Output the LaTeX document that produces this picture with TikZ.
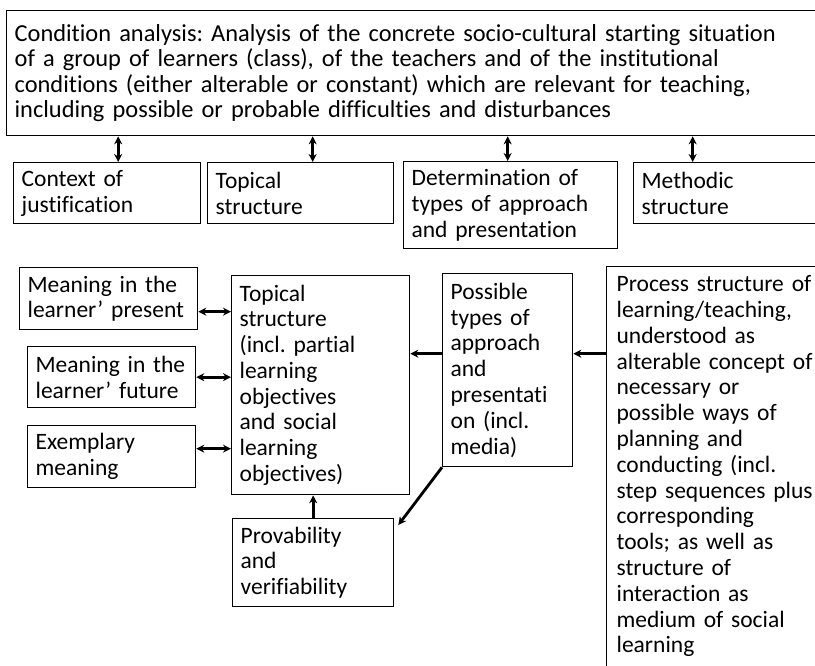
\documentclass[tikz,border=0pt]{standalone}
\usepackage{fontspec}
\setmainfont{Carlito}[Ligatures=CommonOff]
\usetikzlibrary{arrows.meta}
\frenchspacing

\begin{document}
\begin{tikzpicture}[
  x=1pt, y=-1pt,
  >={Stealth[length=8pt,width=8pt]},
  bloc/.style={draw, line width=1.3pt, anchor=north west, align=left,
    inner xsep=8pt, inner ysep=6pt,
    font=\fontsize{23.5}{25.8}\selectfont},
  lien/.style={line width=2.8pt, ->},
  lienbi/.style={line width=2.8pt, <->},
]
  \useasboundingbox (0,0) rectangle (815,665);

  % Analyse des conditions (en haut)
  \node[bloc, text width=813pt, minimum height=125pt,
        font=\fontsize{24.4}{25.6}\selectfont] (cond) at (6,10)
    {Condition analysis: Analysis of the concrete socio-cultural starting situation\\
     of a group of learners (class), of the teachers and of the institutional\\
     conditions (either alterable or constant) which are relevant for teaching,\\
     including possible or probable difficulties and disturbances};

  % Deuxieme rangee
  \node[bloc, text width=171pt, minimum height=61pt] (ctx)  at (13,162)  {Context of\\justification};
  \node[bloc, text width=170pt, minimum height=61pt] (tops) at (207,162) {Topical\\structure};
  \node[bloc, text width=198pt, minimum height=87pt] (det)  at (403,161) {Determination of\\types of approach\\and presentation};
  \node[bloc, text width=184pt, minimum height=61pt] (meth) at (633,162) {Methodic\\structure};

  % Fleches verticales
  \foreach \n/\dx in {ctx/11, tops/12, det/-3, meth/-41}
    \draw[lienbi] ([xshift=\dx pt]\n.north) -- ([xshift=\dx pt]\n.north |- cond.south);

  % Partie basse
  \node[bloc, text width=162pt, minimum height=62pt]  (pres) at (19,267)  {Meaning in the\\learner’ present};
  \node[bloc, text width=152pt, minimum height=61pt]  (fut)  at (27,346)  {Meaning in the\\learner’ future};
  \node[bloc, text width=152pt, minimum height=62pt]  (exm)  at (27,425)  {Exemplary\\meaning};
  \node[bloc, text width=162pt, minimum height=219pt] (topl) at (231,275)
    {Topical\\structure\\(incl. partial\\learning\\objectives\\and social\\learning\\objectives)};
  \node[bloc, text width=145pt, minimum height=88pt]  (prov) at (232,518) {Provability\\and\\verifiability};
  \node[bloc, text width=114pt, minimum height=193pt] (poss) at (442,273)
    {Possible\\types of\\approach\\and\\presentati\\on (incl.\\media)};
  \node[bloc, inner xsep=10pt, inner ysep=9pt, text width=210pt, text depth=420pt] (proc) at (606,266)
    {Process structure of\\learning/teaching,\\understood as\\alterable concept of\\necessary or\\possible ways of\\planning and\\conducting (incl.\\step sequences plus\\corresponding\\tools; as well as\\structure of\\interaction as\\medium of social\\learning};

  % Liens
  \draw[lienbi] ([yshift=-13pt]pres.east) -- ([yshift=-13pt]pres.east -| topl.west);
  \draw[lienbi] (fut.east) -- (fut.east -| topl.west);
  \draw[lienbi] ([yshift=8pt]exm.east) -- ([yshift=8pt]exm.east -| topl.west);
  \draw[lien] (prov.north) -- (prov.north |- topl.south);
  \draw[lien] ([yshift=16.5pt]poss.west) -- ([yshift=16.5pt]poss.west -| topl.east);
  \draw[lien] ([yshift=16.5pt]poss.east -| proc.west) -- ([yshift=16.5pt]poss.east);
  \draw[lien] (poss.south west) -- ([xshift=4pt,yshift=-7pt]prov.north east);
\end{tikzpicture}
\end{document}
